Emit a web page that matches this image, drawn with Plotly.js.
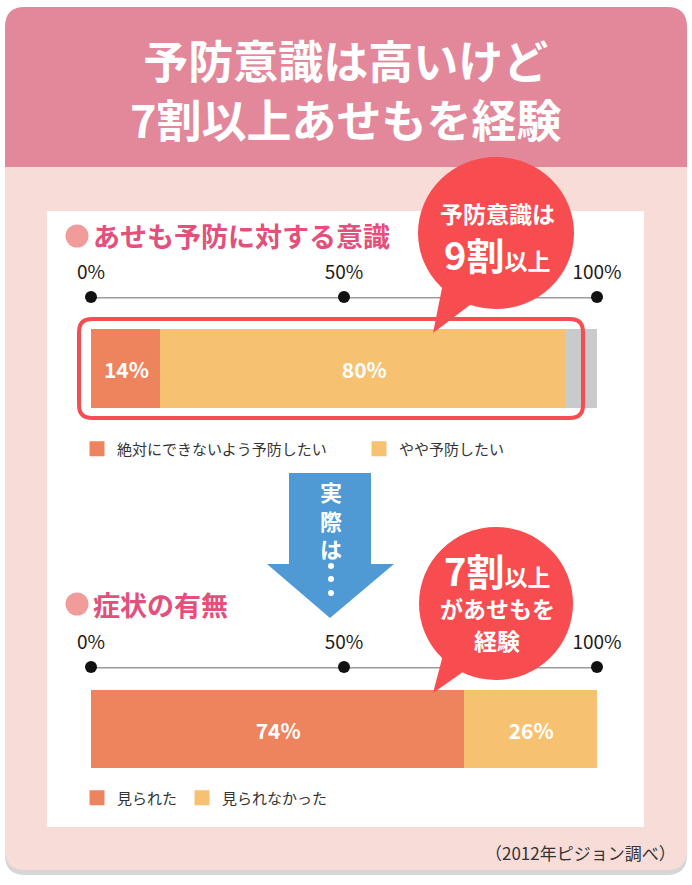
<!DOCTYPE html>
<html>
<head>
<meta charset="utf-8">
<script src="https://cdn.plot.ly/plotly-3.0.1.min.js"></script>
<style>
  html, body { margin: 0; padding: 0; background: #ffffff; }
  #plot { width: 692px; height: 885px; }
</style>
</head>
<body>
<div id="plot"></div>
<script>
// survey data (2012 Pigeon survey)
const preventLabels = ['絶対にできないよう予防したい', 'やや予防したい'];
const preventValues = [14, 80];
const preventRest = [6];              // unlabeled grey remainder
const symptomLabels = ['見られた', '見られなかった'];
const symptomValues = [74, 26];
const tickVals = [0, 50, 100];
const tickText = ['0%', '50%', '100%'];

const W = 692, H = 885;
const FONT = '"Noto Sans CJK JP", "Noto Sans", sans-serif';
const ORANGE = '#EE845E', YELLOW = '#F6C272', GREY = '#C9CACB';
const RED = '#F74D50', BLUE = '#4F9AD4', PINK = '#E2507B';

// pixel -> paper helpers
const px = x => x / W;
const py = y => 1 - y / H;

function roundRect (x0, y0, x1, y1, r, roundBottom) {
    let p = `M${px(x0 + r)},${py(y0)} L${px(x1 - r)},${py(y0)} Q${px(x1)},${py(y0)} ${px(x1)},${py(y0 + r)}`;
    if (roundBottom) {
        p += ` L${px(x1)},${py(y1 - r)} Q${px(x1)},${py(y1)} ${px(x1 - r)},${py(y1)}`;
        p += ` L${px(x0 + r)},${py(y1)} Q${px(x0)},${py(y1)} ${px(x0)},${py(y1 - r)}`;
    } else {
        p += ` L${px(x1)},${py(y1)} L${px(x0)},${py(y1)}`;
    }
    p += ` L${px(x0)},${py(y0 + r)} Q${px(x0)},${py(y0)} ${px(x0 + r)},${py(y0)} Z`;
    return p;
}

function polygon (pts) {
    return pts.map((pt, i) => (i ? 'L' : 'M') + px(pt[0]) + ',' + py(pt[1])).join(' ') + ' Z';
}

function dot (x, y, r, color) {
    return { type: 'circle', xref: 'paper', yref: 'paper', layer: 'above',
             x0: px(x - r), x1: px(x + r), y0: py(y + r), y1: py(y - r),
             fillcolor: color, line: { width: 0 } };
}

// y ranges: bar sits at y=0 (width 1), the scale line sits at the top of the range
const yTop1 = 0.5 + 33 / 78;
const yTop2 = 0.5 + 24 / 77;

function barTrace (name, val, color, xa, ya, legend, showText) {
    return {
        type: 'bar', orientation: 'h',
        x: val, y: [0], width: 1,
        name: name,
        xaxis: xa, yaxis: ya,
        legend: legend,
        showlegend: showText,
        // thick outline in the fill colour, mostly so the legend squares come out bigger
        marker: { color: color, line: { width: 3, color: color } },
        texttemplate: showText ? '%{x}%' : '',
        textposition: 'inside',
        insidetextanchor: 'middle',
        constraintext: 'none',
        textfont: { family: FONT, size: 21, color: 'white', weight: 'bold' },
        hoverinfo: 'none'
    };
}

function scaleTrace (xa, ya, top) {
    return {
        type: 'scatter', mode: 'lines+markers',
        x: tickVals, y: tickVals.map(() => top),
        xaxis: xa, yaxis: ya,
        line: { color: '#9B9B9B', width: 3 },
        marker: { color: '#111111', size: 12 },
        cliponaxis: false,
        showlegend: false,
        hoverinfo: 'none'
    };
}

const traces = [
    barTrace(preventLabels[0], [preventValues[0]], ORANGE, 'x', 'y', 'legend', true),
    barTrace(preventLabels[1], [preventValues[1]], YELLOW, 'x', 'y', 'legend', true),
    barTrace('その他', preventRest, GREY, 'x', 'y', 'legend', false),
    barTrace(symptomLabels[0], [symptomValues[0]], ORANGE, 'x2', 'y2', 'legend2', true),
    barTrace(symptomLabels[1], [symptomValues[1]], YELLOW, 'x2', 'y2', 'legend2', true),
    scaleTrace('x', 'y', yTop1),
    scaleTrace('x2', 'y2', yTop2)
];

function xAxis (anchor) {
    return {
        domain: [px(91), px(597)], range: [0, 100], anchor: anchor,
        side: 'top', fixedrange: true,
        tickvals: tickVals, ticktext: tickText, ticks: '',
        ticklabelstandoff: 13,
        tickfont: { family: FONT, size: 19, color: '#231815' },
        showgrid: false, zeroline: false, showline: false
    };
}

function yAxis (anchor, top, bottom, yTop) {
    return {
        domain: [py(bottom), py(top)], range: [-0.5, yTop], anchor: anchor,
        visible: false, fixedrange: true
    };
}

const shapes = [
    // card shadow, card body, header
    { type: 'path', xref: 'paper', yref: 'paper', layer: 'below', path: roundRect(5, 11, 687, 875, 20, true), fillcolor: '#D6D6D6', line: { width: 0 } },
    { type: 'path', xref: 'paper', yref: 'paper', layer: 'below', path: roundRect(5, 7, 687, 870, 20, true), fillcolor: '#F7DCD8', line: { width: 0 } },
    { type: 'path', xref: 'paper', yref: 'paper', layer: 'below', path: roundRect(5, 7, 687, 167, 20, false), fillcolor: '#E3889A', line: { width: 0 } },
    // white panel
    { type: 'rect', xref: 'paper', yref: 'paper', layer: 'below', x0: px(47), x1: px(644), y0: py(827), y1: py(211), fillcolor: '#FFFFFF', line: { width: 0 } },
    // section bullets
    dot(77, 236, 11.5, '#F29B9B'),
    dot(77, 604, 11.5, '#F29B9B'),
    // red frame around first bar
    { type: 'path', xref: 'paper', yref: 'paper', layer: 'above', path: roundRect(79, 319, 583, 418, 13, true), fillcolor: 'rgba(0,0,0,0)', line: { color: '#F54E52', width: 4 } },
    // blue arrow
    { type: 'path', xref: 'paper', yref: 'paper', layer: 'above',
      path: polygon([[289, 473], [371, 473], [371, 564], [394, 564], [330, 618], [267, 564], [289, 564]]),
      fillcolor: BLUE, line: { width: 0 } },
    // dots under 実際は
    dot(331, 566, 3, 'white'),
    dot(331, 579, 3, 'white'),
    dot(331, 593, 3, 'white'),
    // speech bubbles
    { type: 'circle', xref: 'paper', yref: 'paper', layer: 'above', x0: px(418), x1: px(574), y0: py(309), y1: py(157), fillcolor: RED, line: { width: 0 } },
    { type: 'path', xref: 'paper', yref: 'paper', layer: 'above',
      path: polygon([[458, 268], [443, 283], [433, 333], [470, 305], [488, 292]]), fillcolor: RED, line: { width: 0 } },
    { type: 'circle', xref: 'paper', yref: 'paper', layer: 'above', x0: px(419), x1: px(573), y0: py(680), y1: py(527), fillcolor: RED, line: { width: 0 } },
    { type: 'path', xref: 'paper', yref: 'paper', layer: 'above',
      path: polygon([[458, 640], [443, 655], [433, 693], [470, 667], [488, 655]]), fillcolor: RED, line: { width: 0 } }
];

function note (text, x, y, size, color, anchor, weight) {
    return {
        xref: 'paper', yref: 'paper', x: px(x), y: py(y),
        xanchor: anchor || 'center', yanchor: 'middle',
        text: text, showarrow: false,
        font: { family: FONT, size: size, color: color, weight: weight || 'normal' }
    };
}

const annotations = [
    note('予防意識は高いけど<br>7割以上あせもを経験', 346, 89, 45, 'white', 'center', 'bold'),
    note('あせも予防に対する意識', 91, 236, 27, PINK, 'left', 'bold'),
    note('症状の有無', 91, 604, 27, PINK, 'left', 'bold'),
    note('予防意識は', 497, 213, 23, 'white', 'center', 'bold'),
    note('<span style="font-size:38px">9割</span>以上', 497, 253, 23, 'white', 'center', 'bold'),
    note('<span style="font-size:38px">7割</span>以上', 497, 569, 23, 'white', 'center', 'bold'),
    note('があせもを', 497, 608, 23, 'white', 'center', 'bold'),
    note('経験', 497, 640, 23, 'white', 'center', 'bold'),
    // vertical text inside the arrow
    note('実<br>際<br>は', 331, 519, 22, 'white', 'center', 'bold'),
    note('（2012年ピジョン調べ）', 678, 852, 17, '#333333', 'right')
];

const legendBase = {
    orientation: 'h', xanchor: 'left', yanchor: 'middle',
    traceorder: 'normal',
    bgcolor: 'rgba(0,0,0,0)', borderwidth: 0,
    font: { family: FONT, size: 15, color: '#333333' }
};

const layout = {
    width: W, height: H,
    margin: { l: 0, r: 0, t: 0, b: 0 },
    paper_bgcolor: '#FFFFFF', plot_bgcolor: 'rgba(0,0,0,0)',
    barmode: 'stack', bargap: 0,
    hovermode: false,
    xaxis: xAxis('y'),
    yaxis: yAxis('x', 297, 408, yTop1),
    xaxis2: xAxis('y2'),
    yaxis2: yAxis('x2', 667, 768, yTop2),
    legend: Object.assign({}, legendBase, { x: px(77), y: py(449), entrywidth: 237 }),
    legend2: Object.assign({}, legendBase, { x: px(77), y: py(798) }),
    shapes: shapes,
    annotations: annotations
};

Plotly.newPlot('plot', traces, layout, { displayModeBar: false, staticPlot: true });
</script>
</body>
</html>
